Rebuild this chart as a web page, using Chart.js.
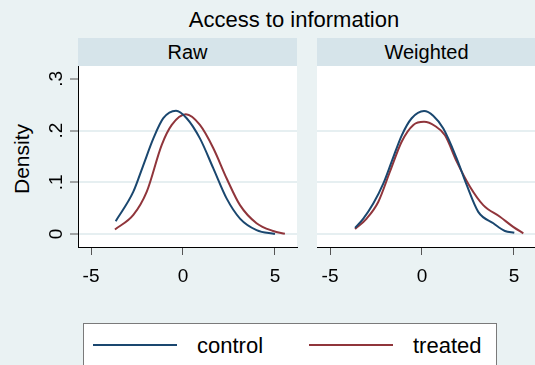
<!DOCTYPE html>
<html>
<head>
<meta charset="utf-8">
<script src="https://cdn.jsdelivr.net/npm/chart.js@4/dist/chart.umd.min.js"></script>
<style>
  html, body { margin: 0; padding: 0; }
  body { width: 535px; height: 365px; overflow: hidden; background: #eaf2f3; position: relative;
         font-family: "Liberation Sans", Arial, sans-serif; color: #000; }
  .abs { position: absolute; }
  #title { left: 0; width: 588px; top: 7px; text-align: center; font-size: 22px; }
  .strip { top: 38px; height: 28px; background: #d6e4ea; text-align: center; font-size: 20px; line-height: 28px; }
  #ytitle { left: 22px; top: 159px; font-size: 21px; transform: translate(-50%, -50%) rotate(-90deg); white-space: nowrap; }
  #legend { left: 83px; top: 323px; width: 412px; height: 44px; background: #fff; border: 1px solid #7a7a7a; }
  .lline { position: absolute; top: 20px; height: 2px; width: 84px; }
  .ltext { position: absolute; top: 9px; font-size: 22px; }
</style>
</head>
<body>
<div id="title" class="abs">Access to information</div>
<div class="abs strip" style="left:78px;width:219px;">Raw</div>
<div class="abs strip" style="left:317px;width:219px;">Weighted</div>
<div id="ytitle" class="abs">Density</div>
<canvas id="rawChart" class="abs" width="300" height="231" style="left:0;top:66px;"></canvas>
<canvas id="wChart" class="abs" width="219" height="231" style="left:317px;top:66px;"></canvas>
<div id="legend" class="abs">
  <div class="lline" style="left:9px;background:#1a476f;"></div>
  <div class="ltext" style="left:113px;">control</div>
  <div class="lline" style="left:225px;background:#90353b;"></div>
  <div class="ltext" style="left:329px;">treated</div>
</div>
<script>
// tick labels
const xTicks = [-5, 0, 5];
const yTicks = [0, 0.1, 0.2, 0.3];
const yTickLabels = ['0', '.1', '.2', '.3'];

// Raw panel
const rawControlX = [-3.66, -2.70, -2.16, -1.61, -1.07, -0.38, 0.20, 0.92, 1.65, 2.37, 3.10, 4.00, 5.00];
const rawControlY = [0.025, 0.082, 0.133, 0.185, 0.224, 0.2385, 0.224, 0.185, 0.127, 0.069, 0.030, 0.0077, 0.0];
const rawTreatedX = [-3.70, -2.70, -1.97, -1.16, -0.61, 0.16, 0.92, 1.65, 2.37, 3.10, 4.00, 4.90, 5.54];
const rawTreatedY = [0.009, 0.037, 0.082, 0.172, 0.211, 0.2315, 0.211, 0.166, 0.108, 0.056, 0.021, 0.006, 0.0005];

// Weighted panel
const wControlX = [-3.64, -3.19, -2.65, -2.10, -1.65, -1.10, -0.56, 0.11, 0.61, 1.16, 1.89, 2.43, 3.06, 3.88, 4.51, 5.02];
const wControlY = [0.012, 0.030, 0.059, 0.098, 0.140, 0.191, 0.224, 0.238, 0.229, 0.204, 0.146, 0.095, 0.043, 0.021, 0.006, 0.0025];
const wTreatedX = [-3.64, -3.01, -2.38, -1.74, -1.10, -0.47, 0.11, 0.71, 1.25, 1.89, 2.61, 3.33, 4.24, 4.96, 5.51];
const wTreatedY = [0.0097, 0.030, 0.062, 0.121, 0.179, 0.211, 0.217, 0.209, 0.191, 0.140, 0.0915, 0.056, 0.0335, 0.014, 0.0014];

const FONT = '"Liberation Sans", Arial, sans-serif';
const BLUE = '#1a476f';
const RED = '#90353b';

function pts(xs, ys) {
  return xs.map((x, i) => ({ x, y: ys[i] }));
}

const whitePlot = {
  id: 'whitePlot',
  beforeDraw(chart) {
    const a = chart.chartArea;
    const ctx = chart.ctx;
    ctx.save();
    ctx.fillStyle = '#fff';
    ctx.fillRect(a.left, a.top, a.right - a.left, a.bottom - a.top);
    ctx.restore();
  }
};

// y tick labels in Stata are rotated
const rotatedYLabels = {
  id: 'rotatedYLabels',
  afterDraw(chart) {
    const s = chart.scales.y;
    const ctx = chart.ctx;
    ctx.save();
    ctx.fillStyle = '#000';
    ctx.font = '19px ' + FONT;
    ctx.textAlign = 'center';
    ctx.textBaseline = 'alphabetic';
    yTicks.forEach((v, i) => {
      const y = s.getPixelForValue(v);
      ctx.save();
      ctx.translate(62, y);
      ctx.rotate(-Math.PI / 2);
      ctx.fillText(yTickLabels[i], 0, 0);
      ctx.restore();
    });
    ctx.restore();
  }
};

function makeChart(id, control, treated, showY) {
  const plugins = [whitePlot];
  if (showY) plugins.push(rotatedYLabels);
  return new Chart(document.getElementById(id), {
    type: 'scatter',
    data: {
      datasets: [
        { label: 'control', data: control, borderColor: BLUE, borderWidth: 2, showLine: true, pointRadius: 0, cubicInterpolationMode: 'monotone' },
        { label: 'treated', data: treated, borderColor: RED, borderWidth: 2, showLine: true, pointRadius: 0, cubicInterpolationMode: 'monotone' }
      ]
    },
    options: {
      responsive: false,
      animation: false,
      layout: { padding: { left: 0, right: showY ? 3 : 0, top: 0, bottom: 0 } },
      plugins: { legend: { display: false }, tooltip: { enabled: false } },
      scales: {
        x: {
          type: 'linear', min: -5.71, max: 6.2,
          afterBuildTicks: s => { s.ticks = xTicks.map(v => ({ value: v })); },
          afterFit: s => { s.height = 50; s.paddingLeft = 0; s.paddingRight = 0; },
          ticks: { color: '#000', font: { family: FONT, size: 19 }, padding: 10, maxRotation: 0, callback: v => String(v) },
          grid: { drawOnChartArea: false, drawTicks: true, tickLength: 8, tickColor: '#555', tickWidth: 1 },
          border: { display: true, color: '#000', width: 1 }
        },
        y: {
          type: 'linear', min: -0.025, max: 0.325,
          afterBuildTicks: s => { s.ticks = yTicks.map(v => ({ value: v })); },
          afterFit: s => { s.width = showY ? 78 : 0; s.paddingTop = 0; s.paddingBottom = 0; },
          ticks: { display: false },
          grid: {
            color: c => (c.tick && c.tick.value < 0.29) ? '#e6eff1' : 'rgba(0,0,0,0)',
            lineWidth: 2,
            drawTicks: showY, tickLength: 8, tickColor: '#555', tickWidth: 1
          },
          border: { display: showY, color: '#000', width: 1 }
        }
      }
    },
    plugins
  });
}

makeChart('rawChart', pts(rawControlX, rawControlY), pts(rawTreatedX, rawTreatedY), true);
makeChart('wChart', pts(wControlX, wControlY), pts(wTreatedX, wTreatedY), false);
</script>
</body>
</html>
